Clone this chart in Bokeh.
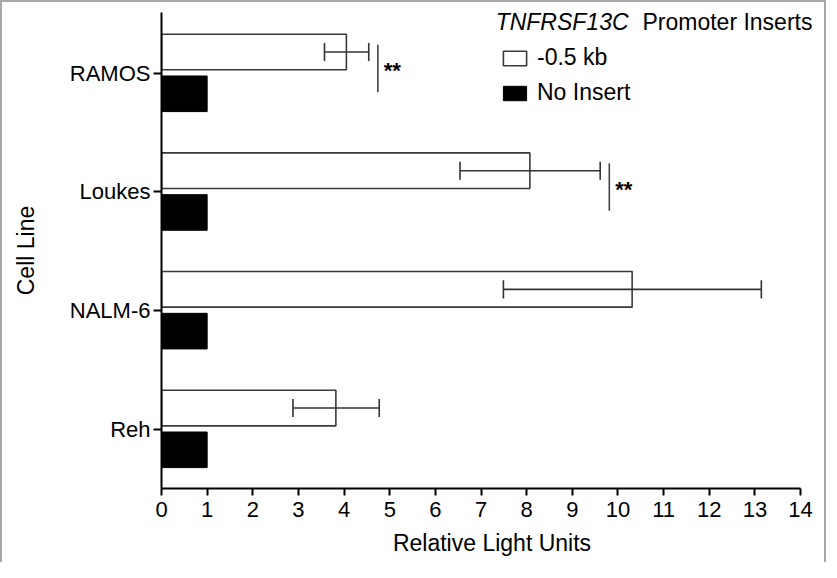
from bokeh.plotting import figure
from bokeh.models import Range1d, FixedTicker, Legend, LegendItem, Label, ColumnDataSource
from bokeh.embed import file_html
from bokeh.resources import INLINE
from bokeh.core.properties import value

# ---- data ----
cell_lines = ["RAMOS", "Loukes", "NALM-6", "Reh"]
insert_mean = [4.05, 8.07, 10.31, 3.82]          # -0.5 kb promoter insert
insert_err_low = [3.57, 6.54, 7.49, 2.88]
insert_err_high = [4.54, 9.61, 13.14, 4.77]
no_insert_mean = [1.0, 1.0, 1.0, 1.0]           # No Insert
significance = ["**", "**", "", ""]
x_ticks = list(range(0, 15))
series_names = ["-0.5 kb", "No Insert"]
legend_title_italic = "TNFRSF13C"
legend_title_rest = "Promoter Inserts"

FONT = "Liberation Sans"
BAR_H = 0.30
OFF_W = -0.178
OFF_B = 0.174
CAP = 0.076

idx = list(range(len(cell_lines)))
src = ColumnDataSource(dict(
    y_w=[i + OFF_W for i in idx],
    y_b=[i + OFF_B for i in idx],
    mean=insert_mean,
    lo=insert_err_low,
    hi=insert_err_high,
    none=no_insert_mean,
    cap_lo=[i + OFF_W - CAP for i in idx],
    cap_hi=[i + OFF_W + CAP for i in idx],
))

sig_idx = [i for i in idx if significance[i]]
sig_src = ColumnDataSource(dict(
    x=[insert_err_high[i] + 0.2 for i in sig_idx],
    tx=[insert_err_high[i] + 0.33 for i in sig_idx],
    y0=[i - 0.24 for i in sig_idx],
    y1=[i + 0.16 for i in sig_idx],
    ty=[i - 0.02 for i in sig_idx],
    txt=[significance[i] for i in sig_idx],
))

p = figure(width=826, height=562, output_backend="svg", toolbar_location=None,
           x_range=Range1d(0, 14.48), y_range=Range1d(3.50, -0.511),
           min_border_left=159, min_border_top=10, min_border_bottom=76,
           min_border_right=6)
p.styles = {"border-top": "2px solid #a8a8a8", "border-left": "2px solid #a8a8a8",
            "border-right": "2px solid #a8a8a8"}
p.outline_line_color = None
p.xgrid.visible = False
p.ygrid.visible = False
p.background_fill_color = "white"
p.border_fill_color = "white"

r_w = p.hbar(y="y_w", left=0, right="mean", height=BAR_H, source=src,
             fill_color="white", line_color="#3a3a3a", line_width=1.6)
r_b = p.hbar(y="y_b", left=0, right="none", height=BAR_H, source=src,
             fill_color="black", line_color="black", line_width=1)

# error bars
p.segment(x0="lo", x1="hi", y0="y_w", y1="y_w", source=src,
          line_color="#333333", line_width=1.6)
p.segment(x0="lo", x1="lo", y0="cap_lo", y1="cap_hi", source=src,
          line_color="#333333", line_width=1.6)
p.segment(x0="hi", x1="hi", y0="cap_lo", y1="cap_hi", source=src,
          line_color="#333333", line_width=1.6)

# significance markers
p.segment(x0="x", x1="x", y0="y0", y1="y1", source=sig_src,
          line_color="#444444", line_width=1.6)
p.text(x="tx", y="ty", text="txt", source=sig_src, text_font=value(FONT),
       text_font_size="22px", text_font_style="bold", text_baseline="middle",
       text_align="left", text_color="black")

# axes
xa = p.xaxis[0]
xa.ticker = FixedTicker(ticks=x_ticks)
xa.bounds = (0, 14)
xa.axis_line_width = 2
xa.axis_line_color = "black"
xa.major_tick_line_width = 2
xa.major_tick_line_color = "black"
xa.major_tick_in = 0
xa.major_tick_out = 7
xa.minor_tick_line_color = None
xa.major_label_text_font = FONT
xa.major_label_text_font_size = "22px"
xa.major_label_text_color = "black"
xa.major_label_standoff = 6
xa.axis_label = "Relative Light Units"
xa.axis_label_text_font = FONT
xa.axis_label_text_font_size = "23px"
xa.axis_label_text_font_style = "normal"
xa.axis_label_text_color = "black"
xa.axis_label_standoff = 10

ya = p.yaxis[0]
ya.ticker = FixedTicker(ticks=idx)
ya.major_label_overrides = {i: cell_lines[i] for i in idx}
ya.axis_line_width = 2
ya.axis_line_color = "black"
ya.major_tick_line_width = 2
ya.major_tick_line_color = "black"
ya.major_tick_in = 0
ya.major_tick_out = 8
ya.minor_tick_line_color = None
ya.major_label_text_font = FONT
ya.major_label_text_font_size = "22px"
ya.major_label_text_color = "black"
ya.major_label_standoff = 3
ya.axis_label = "Cell Line"
ya.axis_label_text_font = FONT
ya.axis_label_text_font_size = "23px"
ya.axis_label_text_font_style = "normal"
ya.axis_label_text_color = "black"
ya.axis_label_standoff = 28

# legend
legend = Legend(items=[LegendItem(label=series_names[0], renderers=[r_w]),
                       LegendItem(label=series_names[1], renderers=[r_b])],
                location=(339, 382), padding=0, margin=0, spacing=8,
                glyph_width=29, glyph_height=18, label_standoff=8,
                label_text_font=FONT, label_text_font_size="23px",
                label_text_color="black",
                border_line_color=None, background_fill_alpha=0)
p.add_layout(legend)

p.add_layout(Label(x=7.32, y=-0.427, text=legend_title_italic, text_font=FONT,
                   text_font_size="23px", text_font_style="italic",
                   text_baseline="middle", text_align="left", text_color="black"))
p.add_layout(Label(x=14.26, y=-0.427, text=legend_title_rest, text_font=FONT,
                   text_font_size="23px", text_baseline="middle",
                   text_align="right", text_color="black"))

open("out.html", "w").write(file_html(p, INLINE))
